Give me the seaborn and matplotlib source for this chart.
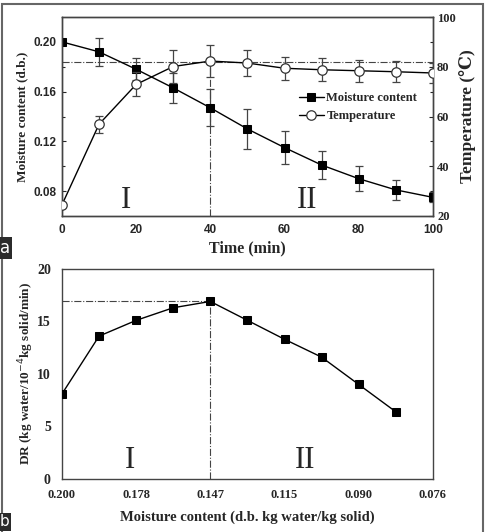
import numpy as np
import pandas as pd
import seaborn as sns
import matplotlib.pyplot as plt
from matplotlib.patches import Rectangle

sns.set_style("white")
plt.rcParams['font.family'] = ['Liberation Serif', 'DejaVu Serif']

# panel a: drying kinetics
time_min = [0, 10, 20, 30, 40, 50, 60, 70, 80, 90, 100]
moisture = [0.200, 0.192, 0.178, 0.163, 0.147, 0.130, 0.115, 0.101, 0.090, 0.081, 0.075]
moisture_err = [0.0, 0.011, 0.009, 0.012, 0.015, 0.016, 0.013, 0.011, 0.010, 0.008, 0.004]
temperature = [24.5, 56.9, 72.9, 80.1, 82.3, 81.5, 79.4, 78.8, 78.4, 78.0, 77.5]
temperature_err = [0.0, 3.5, 4.8, 6.5, 6.5, 5.2, 4.6, 4.6, 4.4, 4.2, 4.0]

# panel b: drying rate vs moisture content
dr_values = [8.1, 13.6, 15.1, 16.3, 16.9, 15.1, 13.3, 11.6, 9.0, 6.4]
mc_ticklabels = ["0.200", "0.178", "0.147", "0.115", "0.090", "0.076"]

df_a = pd.DataFrame({"Time": time_min, "Moisture": moisture, "Temp": temperature})
df_b = pd.DataFrame({"pos": np.arange(len(dr_values)), "DR": dr_values})

bold_serif = dict(family=['Liberation Serif', 'DejaVu Serif'], weight='bold')
bold_sans = dict(family=['Liberation Sans', 'DejaVu Sans'], weight='bold')

fig = plt.figure(figsize=(4.88, 5.32), dpi=100)

# ---------- panel a ----------
ax = fig.add_axes([0.127, 0.594, 0.760, 0.374])
ax2 = ax.twinx()

ax.errorbar(time_min, moisture, yerr=moisture_err, fmt='none', ecolor='#444444',
            elinewidth=0.9, capsize=3, capthick=0.9, zorder=2)
sns.lineplot(data=df_a, x="Time", y="Moisture", ax=ax, color='black', lw=1,
             marker='s', markersize=6, markerfacecolor='black',
             markeredgecolor='black', label='Moisture content', legend=False, zorder=3)

ax2.errorbar(time_min, temperature, yerr=temperature_err, fmt='none', ecolor='#444444',
             elinewidth=0.9, capsize=3, capthick=0.9, zorder=2)
sns.lineplot(data=df_a, x="Time", y="Temp", ax=ax2, color='black', lw=1,
             marker='o', markersize=6.8, markerfacecolor='white',
             markeredgecolor='#333333', markeredgewidth=0.9,
             label='Temperature', legend=False, zorder=3)

ax.set_xlim(0, 100)
ax.set_ylim(0.06, 0.22)
ax2.set_ylim(20, 100)
ax.set_xticks([0, 20, 40, 60, 80, 100])
ax.set_xticks([10, 30, 50, 70, 90], minor=True)
ax.set_yticks([0.08, 0.12, 0.16, 0.20])
ax.set_yticks([0.10, 0.14, 0.18], minor=True)
ax2.set_yticks([20, 40, 60, 80, 100])
ax2.set_yticks([30, 50, 70, 90], minor=True)
ax.set_xticklabels(["0", "20", "40", "60", "80", "100"], **bold_sans, fontsize=8.5)
ax.set_yticklabels(["0.08", "0.12", "0.16", "0.20"], **bold_sans, fontsize=8.5)
ax2.set_yticklabels(["20", "40", "60", "80", "100"], **bold_serif, fontsize=9)

ax.set_xlabel("Time (min)", **bold_serif, fontsize=11.5, labelpad=3)
ax.set_ylabel("Moisture content (d.b.)", **bold_serif, fontsize=9.5, labelpad=4)
ax2.set_ylabel("Temperature (℃)", **bold_serif, fontsize=12.5, labelpad=2)

for a in (ax, ax2):
    a.tick_params(which='both', direction='in', length=3, width=0.8, pad=3)
    a.tick_params(which='minor', length=2)
    for s in a.spines.values():
        s.set_color('#444444')
        s.set_linewidth(1)
ax.tick_params(axis='x', pad=6)
ax.tick_params(axis='y', right=False, pad=4)
ax2.tick_params(axis='y', left=False)

# guide lines at the critical point
ax.axhline(0.1838, color='#444444', lw=0.8, ls='-.', zorder=1)
ax.plot([40, 40], [0.06, 0.1838], color='#444444', lw=0.8, ls='-.', zorder=1)

ax.text(0.172, 0.08, "I", transform=ax.transAxes, fontsize=22,
        ha='center', va='center', family=['Liberation Serif'])
ax.text(0.66, 0.08, "II", transform=ax.transAxes, fontsize=22,
        ha='center', va='center', family=['Liberation Serif'])

h1, l1 = ax.get_legend_handles_labels()
h2, l2 = ax2.get_legend_handles_labels()
ax2.legend(h1 + h2, l1 + l2, loc='upper left', bbox_to_anchor=(0.615, 0.665),
           frameon=False, prop=dict(family='Liberation Serif', weight='bold', size=9),
           handlelength=2.0, handletextpad=0.2, labelspacing=0.45, borderpad=0.2)

# ---------- panel b ----------
bx = fig.add_axes([0.127, 0.0996, 0.760, 0.395])
sns.lineplot(data=df_b, x="pos", y="DR", ax=bx, color='black', lw=1,
             marker='s', markersize=6, markerfacecolor='black',
             markeredgecolor='black', zorder=3)

bx.set_xlim(0, 10)
bx.set_ylim(0, 20)
bx.set_xticks(np.arange(0, 11, 2))
bx.set_xticks(np.arange(1, 10, 2), minor=True)
bx.set_xticklabels(mc_ticklabels, **bold_serif, fontsize=9)
bx.set_yticks([0, 5, 10, 15, 20])
bx.set_yticks([2.5, 7.5, 12.5, 17.5], minor=True)
bx.set_yticklabels(["0", "5", "10", "15", "20"], **bold_serif, fontsize=10)
bx.tick_params(which='both', direction='in', length=3, width=0.8)
bx.tick_params(which='minor', length=2)
bx.tick_params(axis='x', pad=7)
bx.tick_params(axis='y', pad=8)
for s in bx.spines.values():
    s.set_color('#444444')
    s.set_linewidth(1)

bx.set_xlabel("Moisture content (d.b. kg water/kg solid)", **bold_serif, fontsize=10.5, labelpad=7)
bx.set_ylabel("DR (kg water/10$^{-4}$kg solid/min)", **bold_serif, fontsize=9.5, labelpad=1)

bx.plot([0, 4], [16.9, 16.9], color='#444444', lw=0.8, ls='-.', zorder=1)
bx.plot([4, 4], [0, 16.9], color='#444444', lw=0.8, ls='-.', zorder=1)

bx.text(0.183, 0.09, "I", transform=bx.transAxes, fontsize=22,
        ha='center', va='center', family=['Liberation Serif'])
bx.text(0.655, 0.09, "II", transform=bx.transAxes, fontsize=22,
        ha='center', va='center', family=['Liberation Serif'])

# outer frame and panel tags
fig.patches.append(Rectangle((2 / 488, -0.01), 481 / 488, 1 - 4 / 532 + 0.01,
                             transform=fig.transFigure, fill=False,
                             edgecolor='#666666', lw=1.5))
fig.text(0.0, 1 - 248 / 532, "a", color='white', fontsize=12, va='center', ha='left',
         family=['DejaVu Sans'],
         bbox=dict(boxstyle='square,pad=0.12', facecolor='#2b2b2b', edgecolor='none'))
fig.text(0.0, 1 - 522 / 532, "b", color='white', fontsize=11, va='center', ha='left',
         family=['DejaVu Sans'],
         bbox=dict(boxstyle='square,pad=0.08', facecolor='#2b2b2b', edgecolor='none'))

fig.savefig("out.png", dpi=100)
